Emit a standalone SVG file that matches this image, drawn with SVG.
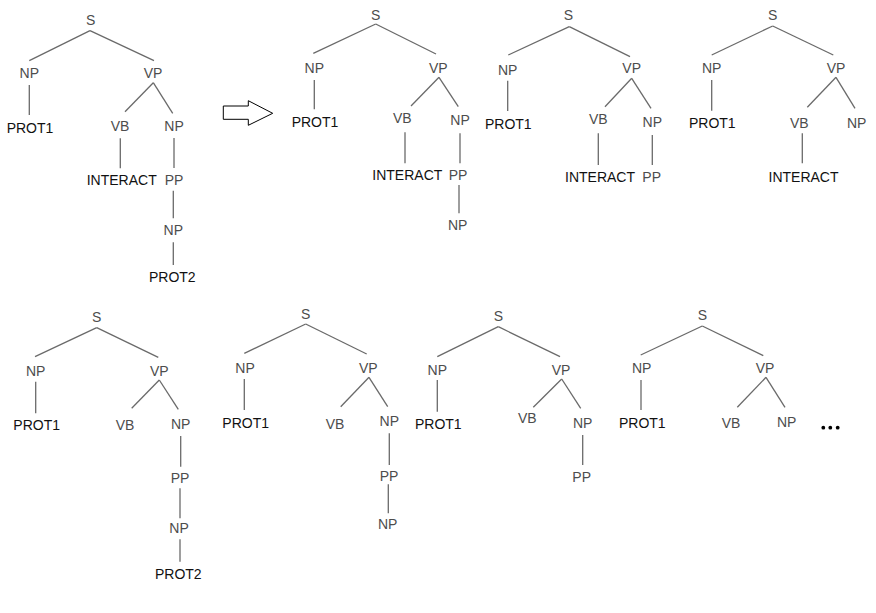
<svg xmlns="http://www.w3.org/2000/svg" width="876" height="613" viewBox="0 0 876 613">
<style>
text{font-family:"Liberation Sans",Arial,sans-serif;font-size:14px;text-anchor:middle}
.c{fill:#4d4d4d}
.w{fill:#111111}
.e line{stroke:#6a6a6a;stroke-width:1.3}
</style>
<rect width="876" height="613" fill="#ffffff"/>
<g id="connectors" class="e">
<!-- tree 1 -->
<line x1="90" y1="30.7" x2="29.3" y2="60.7"/>
<line x1="90" y1="30.7" x2="154" y2="60.7"/>
<line x1="29.3" y1="85" x2="29.3" y2="115"/>
<line x1="153.3" y1="82.7" x2="125" y2="111.7"/>
<line x1="153.3" y1="82.7" x2="172.7" y2="113.3"/>
<line x1="120.3" y1="138.3" x2="120.3" y2="168.3"/>
<line x1="174" y1="138" x2="174" y2="168"/>
<line x1="173.3" y1="190.7" x2="173.3" y2="218.3"/>
<line x1="173.3" y1="242.3" x2="173.3" y2="265"/>
<!-- tree 2 -->
<line x1="375.7" y1="24" x2="313.3" y2="53.3"/>
<line x1="375.7" y1="24" x2="436" y2="54"/>
<line x1="314.3" y1="80" x2="314.3" y2="109.3"/>
<line x1="439" y1="77.3" x2="411" y2="106"/>
<line x1="439" y1="77.3" x2="458.3" y2="106.7"/>
<line x1="405" y1="132.3" x2="405" y2="163.3"/>
<line x1="460" y1="133.3" x2="460" y2="163.3"/>
<line x1="459" y1="185" x2="459" y2="213.3"/>
<!-- tree 3 -->
<line x1="569.3" y1="26.7" x2="508.3" y2="55"/>
<line x1="569.3" y1="26.7" x2="630" y2="56.7"/>
<line x1="507.7" y1="80.7" x2="507.7" y2="111"/>
<line x1="631.7" y1="78.3" x2="605" y2="106.7"/>
<line x1="631.7" y1="78.3" x2="651" y2="108.3"/>
<line x1="598.3" y1="133.3" x2="598.3" y2="165"/>
<line x1="652.3" y1="135" x2="652.3" y2="165"/>
<!-- tree 4 -->
<line x1="772.7" y1="26" x2="711.7" y2="55"/>
<line x1="772.7" y1="26" x2="833.3" y2="55"/>
<line x1="711.7" y1="80" x2="711.7" y2="110.7"/>
<line x1="836" y1="77.3" x2="807.3" y2="107.3"/>
<line x1="836" y1="77.3" x2="855" y2="108.3"/>
<line x1="802.3" y1="133.3" x2="802.3" y2="163.3"/>
<!-- tree 5 -->
<line x1="96.7" y1="327.7" x2="35" y2="356.7"/>
<line x1="96.7" y1="327.7" x2="158.3" y2="357.3"/>
<line x1="35.7" y1="381.7" x2="35.7" y2="413.3"/>
<line x1="159.3" y1="380" x2="131.7" y2="408.3"/>
<line x1="159.3" y1="380" x2="178.3" y2="409.3"/>
<line x1="180.7" y1="436" x2="180.7" y2="466.7"/>
<line x1="180" y1="488.3" x2="180" y2="518.3"/>
<line x1="180" y1="539.3" x2="180" y2="561.7"/>
<!-- tree 6 -->
<line x1="305.7" y1="324" x2="244.3" y2="353.3"/>
<line x1="305.7" y1="324" x2="366.7" y2="354"/>
<line x1="244.3" y1="379" x2="244.3" y2="410"/>
<line x1="369" y1="377.3" x2="340.7" y2="406.7"/>
<line x1="369" y1="377.3" x2="387.7" y2="406.7"/>
<line x1="389.3" y1="433.3" x2="389.3" y2="465"/>
<line x1="388.3" y1="484.3" x2="388.3" y2="513.3"/>
<!-- tree 7 -->
<line x1="498.3" y1="326.7" x2="437.3" y2="356.7"/>
<line x1="498.3" y1="326.7" x2="560" y2="356.7"/>
<line x1="437.3" y1="380" x2="437.3" y2="411.7"/>
<line x1="561.7" y1="379" x2="533.3" y2="407.3"/>
<line x1="561.7" y1="379" x2="580.7" y2="408.3"/>
<line x1="582.7" y1="435" x2="582.7" y2="465"/>
<!-- tree 8 -->
<line x1="702.3" y1="326" x2="640.7" y2="355"/>
<line x1="702.3" y1="326" x2="763.3" y2="355.7"/>
<line x1="641" y1="380" x2="641" y2="410"/>
<line x1="766" y1="377.3" x2="737.3" y2="407.3"/>
<line x1="766" y1="377.3" x2="785" y2="407.3"/>
</g>
<g id="arrow">
<polygon points="223.3,106 248.3,106 248.3,100.7 272.7,113.3 248.3,125.3 248.3,119.3 223.3,119.3" fill="#ffffff" stroke="#000000" stroke-width="1"/>
</g>
<!-- tree 1 -->
<g id="t1-s"><text class="c" x="90.7" y="25">S</text></g>
<g id="t1-np"><text class="c" x="29.3" y="78">NP</text></g>
<g id="t1-vp"><text class="c" x="153" y="78">VP</text></g>
<g id="t1-prot1"><text class="w" x="30" y="133">PROT1</text></g>
<g id="t1-vb"><text class="c" x="120" y="131">VB</text></g>
<g id="t1-np2"><text class="c" x="174" y="131">NP</text></g>
<g id="t1-interact"><text class="w" x="121.7" y="185">INTERACT</text></g>
<g id="t1-pp"><text class="c" x="174" y="185">PP</text></g>
<g id="t1-np3"><text class="c" x="173.3" y="235">NP</text></g>
<g id="t1-prot2"><text class="w" x="172.3" y="282">PROT2</text></g>
<!-- tree 2 -->
<g id="t2-s"><text class="c" x="375.7" y="20">S</text></g>
<g id="t2-np"><text class="c" x="314.3" y="73">NP</text></g>
<g id="t2-vp"><text class="c" x="438.3" y="73">VP</text></g>
<g id="t2-prot1"><text class="w" x="315" y="127">PROT1</text></g>
<g id="t2-vb"><text class="c" x="402.3" y="123">VB</text></g>
<g id="t2-np2"><text class="c" x="460" y="125">NP</text></g>
<g id="t2-interact"><text class="w" x="407.3" y="180">INTERACT</text></g>
<g id="t2-pp"><text class="c" x="458" y="180">PP</text></g>
<g id="t2-np3"><text class="c" x="457.7" y="230">NP</text></g>
<!-- tree 3 -->
<g id="t3-s"><text class="c" x="568.3" y="20">S</text></g>
<g id="t3-np"><text class="c" x="507.7" y="75">NP</text></g>
<g id="t3-vp"><text class="c" x="631.7" y="72.7">VP</text></g>
<g id="t3-prot1"><text class="w" x="508.3" y="129">PROT1</text></g>
<g id="t3-vb"><text class="c" x="598.3" y="124">VB</text></g>
<g id="t3-np2"><text class="c" x="652.3" y="127">NP</text></g>
<g id="t3-interact"><text class="w" x="600" y="181.7">INTERACT</text></g>
<g id="t3-pp"><text class="c" x="651.7" y="181.7">PP</text></g>
<!-- tree 4 -->
<g id="t4-s"><text class="c" x="772.7" y="20">S</text></g>
<g id="t4-np"><text class="c" x="711.7" y="72.7">NP</text></g>
<g id="t4-vp"><text class="c" x="836" y="72.7">VP</text></g>
<g id="t4-prot1"><text class="w" x="712.3" y="128">PROT1</text></g>
<g id="t4-vb"><text class="c" x="799.3" y="127.7">VB</text></g>
<g id="t4-np2"><text class="c" x="856.7" y="127.7">NP</text></g>
<g id="t4-interact"><text class="w" x="803.5" y="181.7">INTERACT</text></g>
<!-- tree 5 -->
<g id="t5-s"><text class="c" x="96.7" y="321.7">S</text></g>
<g id="t5-np"><text class="c" x="35.7" y="376">NP</text></g>
<g id="t5-vp"><text class="c" x="159.3" y="376">VP</text></g>
<g id="t5-prot1"><text class="w" x="36.7" y="430">PROT1</text></g>
<g id="t5-vb"><text class="c" x="125" y="430">VB</text></g>
<g id="t5-np2"><text class="c" x="180.7" y="429.3">NP</text></g>
<g id="t5-pp"><text class="c" x="180" y="483">PP</text></g>
<g id="t5-np3"><text class="c" x="179" y="532.7">NP</text></g>
<g id="t5-prot2"><text class="w" x="178.3" y="579">PROT2</text></g>
<!-- tree 6 -->
<g id="t6-s"><text class="c" x="305.7" y="319">S</text></g>
<g id="t6-np"><text class="c" x="245" y="372.7">NP</text></g>
<g id="t6-vp"><text class="c" x="368.3" y="372.7">VP</text></g>
<g id="t6-prot1"><text class="w" x="245.7" y="427.5">PROT1</text></g>
<g id="t6-vb"><text class="c" x="335" y="429.3">VB</text></g>
<g id="t6-np2"><text class="c" x="389.3" y="426">NP</text></g>
<g id="t6-pp"><text class="c" x="389" y="480.7">PP</text></g>
<g id="t6-np3"><text class="c" x="387.7" y="529.3">NP</text></g>
<!-- tree 7 -->
<g id="t7-s"><text class="c" x="498.3" y="320.7">S</text></g>
<g id="t7-np"><text class="c" x="437.3" y="375">NP</text></g>
<g id="t7-vp"><text class="c" x="561" y="375">VP</text></g>
<g id="t7-prot1"><text class="w" x="438.3" y="429">PROT1</text></g>
<g id="t7-vb"><text class="c" x="527.3" y="423.3">VB</text></g>
<g id="t7-np2"><text class="c" x="582.7" y="428.3">NP</text></g>
<g id="t7-pp"><text class="c" x="581.7" y="481.7">PP</text></g>
<!-- tree 8 -->
<g id="t8-s"><text class="c" x="702.3" y="320">S</text></g>
<g id="t8-np"><text class="c" x="641.7" y="373.3">NP</text></g>
<g id="t8-vp"><text class="c" x="765" y="373">VP</text></g>
<g id="t8-prot1"><text class="w" x="642.3" y="428.3">PROT1</text></g>
<g id="t8-vb"><text class="c" x="731" y="428.3">VB</text></g>
<g id="t8-np2"><text class="c" x="786.7" y="426.7">NP</text></g>
<g id="ellipsis" fill="#000000">
<circle cx="823.3" cy="427.7" r="1.9"/>
<circle cx="830.3" cy="427.7" r="1.9"/>
<circle cx="837.7" cy="427.7" r="1.9"/>
</g>
</svg>
